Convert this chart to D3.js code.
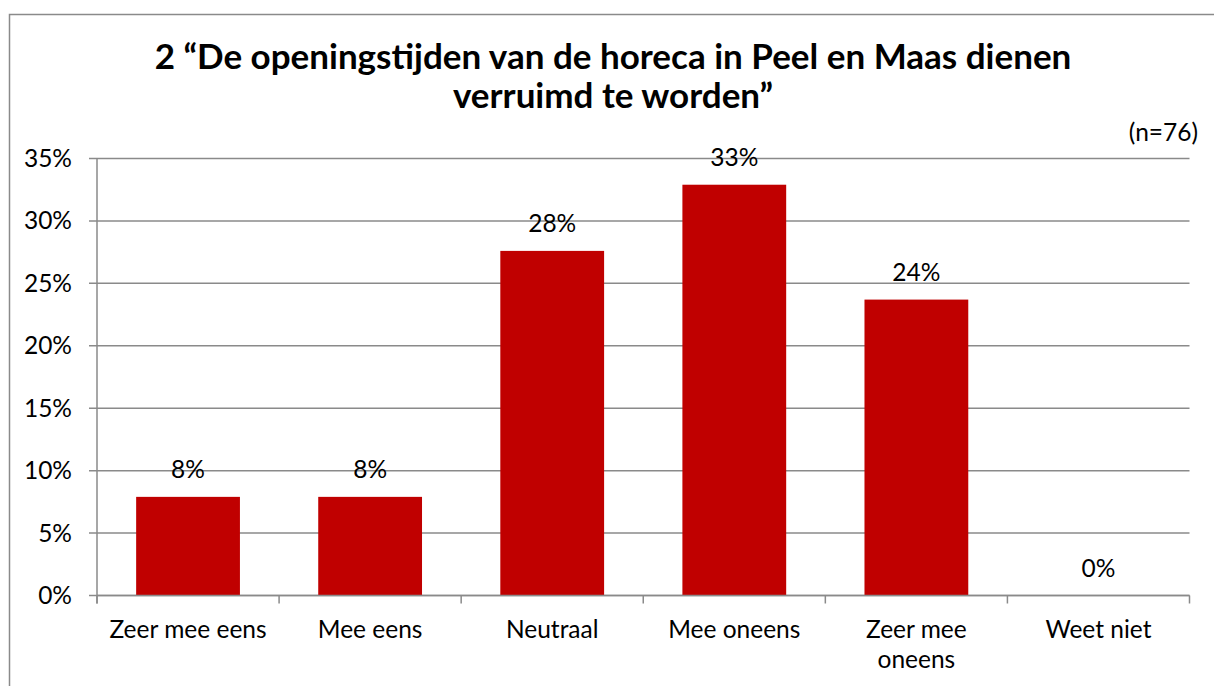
<!DOCTYPE html>
<html>
<head>
<meta charset="utf-8">
<script src="https://cdn.jsdelivr.net/npm/d3@7"></script>
<style>
  html, body { margin: 0; padding: 0; background: #fff; }
  svg { display: block; font-family: Lato, "Open Sans", sans-serif; }
</style>
</head>
<body>
<svg id="chart" width="1214" height="686"></svg>
<script>
const categories = [["Zeer mee eens"], ["Mee eens"], ["Neutraal"], ["Mee oneens"], ["Zeer mee", "oneens"], ["Weet niet"]];
const values = [7.9, 7.9, 27.6, 32.9, 23.7, 0];
const valueLabels = ["8%", "8%", "28%", "33%", "24%", "0%"];
const yTicks = [0, 5, 10, 15, 20, 25, 30, 35];
const titleLines = ["2 \u201CDe openingstijden van de horeca in Peel en Maas dienen", "verruimd te worden\u201D"];
const noteText = "(n=76)";

(function () {
const svg = d3.select("#chart");
const W = 1214, H = 686;
const pLeft = 97, pRight = 1189.5, pTop = 158.5, pBottom = 595.5;
const gridColor = "#8a8a8a";
const fs = 24.5;

// outer border
svg.append("rect").attr("x", 9.5).attr("y", 14.5).attr("width", W).attr("height", H)
  .attr("fill", "none").attr("stroke", gridColor).attr("stroke-width", 1.5);

const x = d3.scaleBand().domain(d3.range(categories.length)).range([pLeft, pRight])
  .paddingInner(0.43).paddingOuter(0.215);
const xb = d3.scaleBand().domain(d3.range(categories.length)).range([pLeft, pRight]).padding(0);
const y = d3.scaleLinear().domain([0, 35]).range([pBottom, pTop]);

// gridlines
svg.append("g").selectAll("line").data(yTicks).join("line")
  .attr("x1", pLeft - 8).attr("x2", pRight)
  .attr("y1", d => y(d)).attr("y2", d => y(d))
  .attr("stroke", gridColor).attr("stroke-width", 1.5);

// y axis line
svg.append("line").attr("x1", pLeft).attr("x2", pLeft).attr("y1", pTop).attr("y2", pBottom + 8)
  .attr("stroke", gridColor).attr("stroke-width", 1.5);

// x ticks at band boundaries
const bounds = d3.range(categories.length).map(i => xb(i)).concat([pRight]);
svg.append("g").selectAll("line").data(bounds).join("line")
  .attr("x1", d => d).attr("x2", d => d).attr("y1", pBottom).attr("y2", pBottom + 8)
  .attr("stroke", gridColor).attr("stroke-width", 1.5);

// y tick labels
svg.append("g").selectAll("text").data(yTicks).join("text")
  .attr("x", 72).attr("y", d => y(d) + 8.5)
  .attr("text-anchor", "end").attr("font-size", fs).attr("fill", "#000")
  .text(d => d + "%");

// bars
svg.append("g").selectAll("rect").data(values).join("rect")
  .attr("x", (d, i) => x(i)).attr("width", x.bandwidth())
  .attr("y", d => y(d)).attr("height", d => pBottom - y(d))
  .attr("fill", "#C00000");

// x axis baseline over bars
svg.append("line").attr("x1", pLeft).attr("x2", pRight).attr("y1", pBottom).attr("y2", pBottom)
  .attr("stroke", gridColor).attr("stroke-width", 1.5);

// value labels
svg.append("g").selectAll("text").data(values).join("text")
  .attr("x", (d, i) => x(i) + x.bandwidth() / 2).attr("y", d => y(d) - 19)
  .attr("text-anchor", "middle").attr("font-size", fs).attr("fill", "#000")
  .text((d, i) => valueLabels[i]);

// category labels
const cat = svg.append("g").selectAll("text").data(categories).join("text")
  .attr("text-anchor", "middle").attr("font-size", fs).attr("fill", "#000")
  .attr("x", (d, i) => xb(i) + xb.bandwidth() / 2).attr("y", 638);
cat.selectAll("tspan").data(d => d).join("tspan")
  .attr("x", function () { return this.parentNode.getAttribute("x"); })
  .attr("dy", (d, j) => j === 0 ? 0 : 30)
  .text(d => d);

// title
svg.append("g").selectAll("text").data(titleLines).join("text")
  .attr("x", 613).attr("y", (d, i) => 69 + i * 39)
  .attr("text-anchor", "middle").attr("font-size", 35).attr("font-weight", "bold").attr("fill", "#000")
  .text(d => d);

// note
svg.append("text").attr("x", 1198).attr("y", 141).attr("text-anchor", "end")
  .attr("font-size", fs).attr("fill", "#000").text(noteText);
})();
</script>
</body>
</html>
